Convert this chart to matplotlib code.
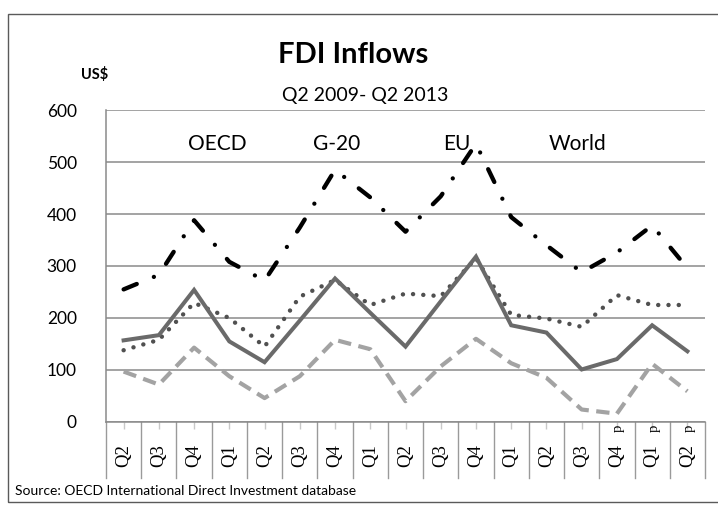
import matplotlib
matplotlib.use("Agg")
import matplotlib.pyplot as plt
from matplotlib.patches import Rectangle
from matplotlib.transforms import blended_transform_factory

# quarters Q2 2009 .. Q2 2013, last three are preliminary
quarters = ["Q2", "Q3", "Q4", "Q1", "Q2", "Q3", "Q4", "Q1", "Q2",
            "Q3", "Q4", "Q1", "Q2", "Q3", "Q4", "Q1", "Q2"]
preliminary = [False] * 14 + [True] * 3

oecd = [157, 167, 254, 155, 115, 195, 276, 210, 145, 232, 318, 186, 172, 101, 121, 186, 136]
g20 = [138, 158, 229, 200, 145, 241, 273, 225, 247, 242, 315, 206, 199, 183, 244, 225, 225]
eu = [97, 72, 143, 88, 46, 88, 158, 140, 40, 107, 160, 113, 85, 24, 16, 112, 59]
world = [255, 283, 388, 308, 272, 374, 485, 432, 366, 434, 535, 394, 340, 288, 326, 378, 296]

series_names = ["OECD", "G-20", "EU", "World"]

W, H = 718, 511
SANS = ["Lato", "DejaVu Sans"]
SERIF = ["Liberation Serif", "DejaVu Serif"]


def fx(px):
    return px / W


def fy(py):
    return 1 - py / H


fig = plt.figure(figsize=(W / 100, H / 100), dpi=100)
fig.patch.set_facecolor("white")

# outer chart frame
fig.add_artist(Rectangle((fx(8), fy(502)), fx(740) - fx(8), fy(14) - fy(502),
                         transform=fig.transFigure, fill=False,
                         edgecolor="#5a5a5a", linewidth=1.0))

ax = fig.add_axes([fx(106), fy(422), fx(705) - fx(106), fy(110) - fy(422)])
x = list(range(len(quarters)))

ax.plot(x, g20, color="#505050", linewidth=3.2, linestyle=(0, (0.01, 2.3)),
        dash_capstyle="round", zorder=3)
ax.plot(x, oecd, color="#6a6a6a", linewidth=2.9, zorder=4,
        solid_joinstyle="miter")
ax.plot(x, eu, color="#a3a3a3", linewidth=3.0, linestyle=(0, (3.2, 1.8)),
        dash_capstyle="butt", zorder=3)
ax.plot(x, world, color="black", linewidth=3.1,
        linestyle=(0, (3.3, 4.3, 0.01, 4.3)), dash_capstyle="round", zorder=5)

ax.set_xlim(-0.5, len(quarters) - 0.5)
ax.set_ylim(0, 600)
ax.set_yticks(range(0, 601, 100))
ax.yaxis.grid(True, color="#8a8a8a", linewidth=1.1)
ax.set_axisbelow(True)
for side in ["top", "right"]:
    ax.spines[side].set_visible(False)
ax.spines["left"].set_color("#8a8a8a")
ax.spines["bottom"].set_color("#8a8a8a")
ax.spines["left"].set_linewidth(1.1)
ax.spines["bottom"].set_linewidth(1.1)
ax.tick_params(axis="y", length=0, pad=21, labelsize=12.5)
for lab in ax.get_yticklabels():
    lab.set_family(SANS)

# category labels, rotated, serif
ax.set_xticks(x)
ax.set_xticklabels([])
ax.tick_params(axis="x", length=5, color="#c8c8c8", width=1)
trans = blended_transform_factory(ax.transData, ax.transAxes)
for i, q in enumerate(quarters):
    ax.text(i, -34 / 312, q, transform=trans, rotation=90, ha="center",
            va="center", fontsize=13.5, family=SERIF)
    if preliminary[i]:
        ax.text(i + 0.05, -6 / 312, "p", transform=trans, rotation=90,
                ha="center", va="center", fontsize=10.5, family=SERIF)
for b in range(len(quarters) + 1):
    ax.plot([b - 0.5, b - 0.5], [0, -56 / 312], transform=trans,
            color="#9a9a9a", linewidth=1.0, clip_on=False)

# titles
fig.text(fx(353), fy(63), "FDI Inflows", ha="center", va="baseline",
         fontsize=21, fontweight="bold", family=SANS)
fig.text(fx(365), fy(101), "Q2 2009- Q2 2013", ha="center", va="baseline",
         fontsize=14, family=SANS)
fig.text(fx(95), fy(79), "US$", ha="center", va="baseline",
         fontsize=10.5, fontweight="bold", family=SANS)

# legend (text only)
legend_x = [217, 337, 457, 578]
for name, lx in zip(series_names, legend_x):
    fig.text(fx(lx), fy(150), name, ha="center", va="baseline",
             fontsize=15, family=SANS)

fig.text(fx(15), fy(495), "Source: OECD International Direct Investment database",
         ha="left", va="baseline", fontsize=10, family=SANS)

fig.savefig("out.png", dpi=100)
